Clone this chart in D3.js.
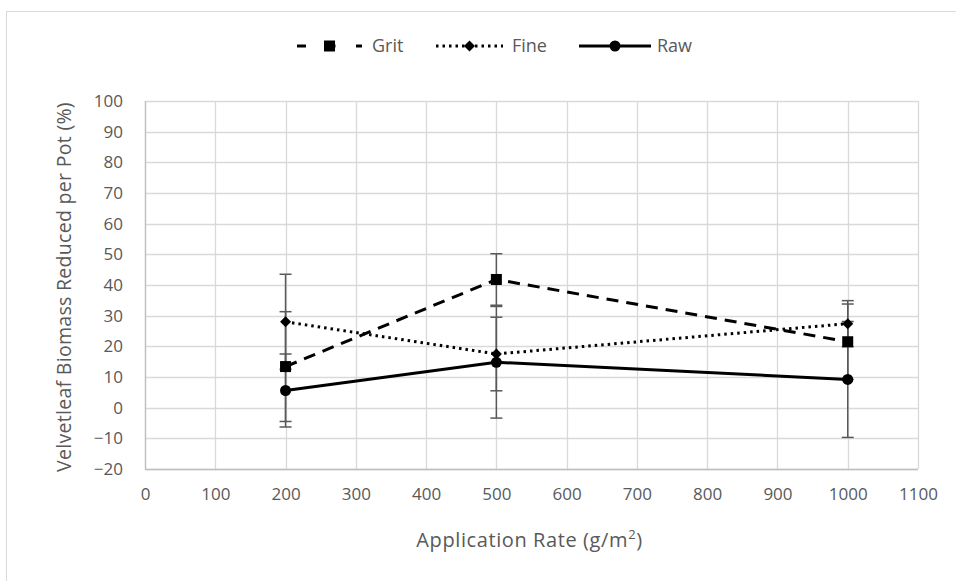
<!DOCTYPE html>
<html>
<head>
<meta charset="utf-8">
<script src="https://cdn.jsdelivr.net/npm/d3@7"></script>
<style>
  html, body { margin: 0; padding: 0; background: #fff; }
  svg { display: block; font-family: "Open Sans", "Noto Sans", sans-serif; }
</style>
</head>
<body>
<svg id="chart" width="956" height="581"></svg>
<script>
// Application rates (g/m²)
const rates = [200, 500, 1000];
// Biomass reduction means (%) and error half-widths
const grit = [13.4, 41.8, 21.5];
const gritErr = [17.9, 8.4, 12.3];
const fine = [28.0, 17.5, 27.4];
const fineErr = [15.5, 12.0, 7.5];
const raw = [5.6, 14.8, 9.2];
const rawErr = [11.9, 18.2, 18.9];

const xTicks = d3.range(0, 1101, 100);
const yTicks = d3.range(-20, 101, 10);

const series = [
  { name: "Grit", values: grit, err: gritErr, dash: "12,8", marker: "square" },
  { name: "Fine", values: fine, err: fineErr, dash: "2.5,4", marker: "diamond" },
  { name: "Raw", values: raw, err: rawErr, dash: null, marker: "circle" }
];

const svg = d3.select("#chart");

// chart frame
svg.append("rect").attr("x", 6.5).attr("y", 11.5).attr("width", 960).attr("height", 600)
  .attr("fill", "#fff").attr("stroke", "#d9d9d9");

const x = d3.scaleLinear().domain([0, 1100]).range([145, 918]);
const y = d3.scaleLinear().domain([-20, 100]).range([469, 101]);

// gridlines
svg.append("g").selectAll("line").data(yTicks).join("line")
  .attr("x1", x(0)).attr("x2", x(1100))
  .attr("y1", d => Math.round(y(d)) + 0.5).attr("y2", d => Math.round(y(d)) + 0.5)
  .attr("stroke", "#d9d9d9").attr("stroke-width", 1.3);
svg.append("g").selectAll("line").data(xTicks).join("line")
  .attr("y1", y(-20)).attr("y2", y(100))
  .attr("x1", d => Math.round(x(d)) + 0.5).attr("x2", d => Math.round(x(d)) + 0.5)
  .attr("stroke", "#d9d9d9").attr("stroke-width", 1.3);

// axis lines
svg.append("line").attr("x1", x(0)).attr("x2", x(1100)).attr("y1", Math.round(y(-20)) + 0.5).attr("y2", Math.round(y(-20)) + 0.5)
  .attr("stroke", "#bfbfbf").attr("stroke-width", 1.3);
svg.append("line").attr("y1", y(-20)).attr("y2", y(100)).attr("x1", Math.round(x(0)) + 0.5).attr("x2", Math.round(x(0)) + 0.5)
  .attr("stroke", "#bfbfbf").attr("stroke-width", 1.3);

// axis tick labels via d3 axes, with the domain and ticks hidden
const yAxis = svg.append("g").attr("transform", `translate(${x(0)},0)`)
  .call(d3.axisLeft(y).tickValues(yTicks).tickFormat(d3.format("d")).tickSize(0).tickPadding(22));
const xAxis = svg.append("g").attr("transform", `translate(0,${y(-20)})`)
  .call(d3.axisBottom(x).tickValues(xTicks).tickFormat(d3.format("d")).tickSize(0).tickPadding(19));
[yAxis, xAxis].forEach(a => {
  a.select(".domain").remove();
  a.selectAll("text").attr("fill", "#595959").style("font-size", "17px")
    .style("font-family", "'Open Sans', sans-serif");
});

// axis titles
const xt = svg.append("text").attr("x", (x(0) + x(1100)) / 2 - 2).attr("y", 547)
  .attr("text-anchor", "middle").attr("fill", "#595959")
  .style("font-size", "20px").style("letter-spacing", "0.6px");
xt.append("tspan").text("Application Rate (g/m");
xt.append("tspan").attr("dy", -8).style("font-size", "13px").text("2");
xt.append("tspan").attr("dy", 8).text(")");

svg.append("text").attr("transform", `translate(71,${(y(-20) + y(100)) / 2 + 2}) rotate(-90)`)
  .attr("text-anchor", "middle").attr("fill", "#595959")
  .style("font-size", "19.5px").style("letter-spacing", "0.3px")
  .text("Velvetleaf Biomass Reduced per Pot (%)");

function drawMarker(g, type, cx, cy) {
  if (type === "square") {
    g.append("rect").attr("x", cx - 5.5).attr("y", cy - 5.5).attr("width", 11).attr("height", 11).attr("fill", "#000");
  } else if (type === "diamond") {
    const r = 5.5;
    g.append("path").attr("d", `M${cx},${cy - r}L${cx + r},${cy}L${cx},${cy + r}L${cx - r},${cy}Z`).attr("fill", "#000");
  } else {
    g.append("circle").attr("cx", cx).attr("cy", cy).attr("r", 5.5).attr("fill", "#000");
  }
}

// error bars
const eb = svg.append("g");
series.forEach(s => {
  rates.forEach((r, i) => {
    const px = x(r);
    const hi = y(s.values[i] + s.err[i]), lo = y(s.values[i] - s.err[i]);
    eb.append("line").attr("x1", px).attr("x2", px).attr("y1", hi).attr("y2", lo)
      .attr("stroke", "#595959").attr("stroke-width", 1.5);
    [hi, lo].forEach(yy => eb.append("line").attr("x1", px - 6).attr("x2", px + 6)
      .attr("y1", yy).attr("y2", yy).attr("stroke", "#595959").attr("stroke-width", 1.5));
  });
});

// series lines and markers
const line = d3.line().x(d => x(d[0])).y(d => y(d[1]));
series.forEach(s => {
  const g = svg.append("g");
  g.append("path").datum(rates.map((r, i) => [r, s.values[i]]))
    .attr("d", line).attr("fill", "none").attr("stroke", "#000").attr("stroke-width", 3)
    .attr("stroke-dasharray", s.dash);
  rates.forEach((r, i) => drawMarker(g, s.marker, x(r), y(s.values[i])));
});

// legend
const legendY = 46;
const legendItems = [
  { s: series[0], x0: 297, x1: 362, tx: 372 },
  { s: series[1], x0: 436, x1: 503, tx: 512 },
  { s: series[2], x0: 579, x1: 651, tx: 657 }
];
const lg = svg.append("g");
legendItems.forEach(it => {
  lg.append("line").attr("x1", it.x0).attr("x2", it.x1).attr("y1", legendY).attr("y2", legendY)
    .attr("stroke", "#000").attr("stroke-width", 3)
    .attr("stroke-dasharray", it.s.name === "Grit" ? "9,20.5" : it.s.dash);
  drawMarker(lg, it.s.marker, (it.x0 + it.x1) / 2, legendY);
  lg.append("text").attr("x", it.tx).attr("y", legendY + 6).attr("fill", "#595959")
    .style("font-size", "18px").text(it.s.name);
});
</script>
</body>
</html>
